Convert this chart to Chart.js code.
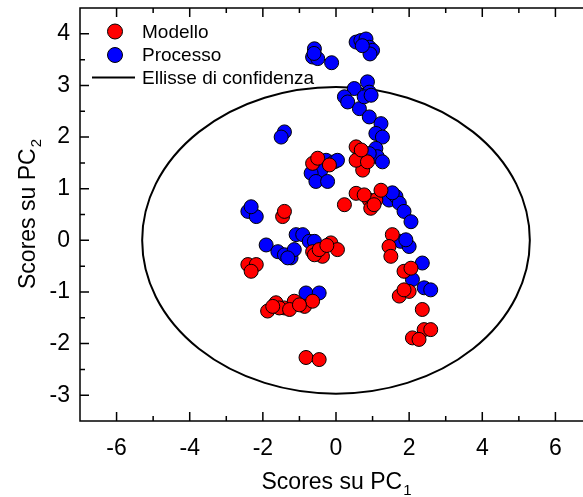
<!DOCTYPE html>
<html>
<head>
<meta charset="utf-8">
<script src="https://cdn.jsdelivr.net/npm/chart.js@4.4.1/dist/chart.umd.min.js"></script>
<style>
  html, body { margin: 0; padding: 0; background: #fff; overflow: hidden; }
  #grafico { display: block; }
</style>
</head>
<body>
<canvas id="grafico" width="600" height="497"></canvas>
<script>
// dati (scores PC1 / PC2)
const modelloX = [-0.64, -0.50, -0.18, 0.55, 0.64, 0.73, 0.55, 0.86, 0.69, 0.23, 0.55, 0.91, 1.09, 0.95, 1.23, 0.77, 1.04,
  1.54, 1.45, 1.50, 1.86, 2.05, 1.73, 2.00, 1.86, 2.36, 2.41, 2.59, 2.09, 2.27,
  -0.64, -0.37, -0.14, 0.04, -0.59, -0.46, -0.25, -2.41, -2.18, -2.32, -1.46, -1.41,
  -1.87, -1.64, -1.41, -1.55, -1.14, -0.86, -0.64, -1.73, -1.27, -1.00, -0.82, -0.46];
const modelloY = [1.49, 1.59, 1.46, 1.81, 1.62, 1.36, 1.55, 1.52, 1.75, 0.69, 0.91, 0.78, 0.78, 0.62, 0.97, 0.88, 0.69,
  0.11, -0.12, -0.31, -0.60, -0.54, -1.08, -0.99, -0.96, -1.34, -1.73, -1.73, -1.89, -1.92,
  -0.22, -0.31, -0.05, -0.18, -0.28, -0.18, -0.10, -0.47, -0.47, -0.60, 0.46, 0.56,
  -1.37, -1.21, -1.31, -1.31, -1.18, -1.28, -1.18, -1.28, -1.34, -1.25, -2.27, -2.31];

const processoX = [-0.59, -0.64, -0.50, -0.12, -0.60, 0.55, 0.68, 0.82, 0.91, 1.00, 0.93, 0.72,
  0.50, 0.86, 0.91, 0.23, 0.32, 0.64, 0.77, 0.96, 0.91, 1.23, 1.09, 1.27, 1.09, 1.13, -1.41, -1.50,
  -0.27, -0.05, 0.04, -0.41, -0.68, -0.55, -0.23, 1.27, 0.91,
  1.45, 1.64, 1.73, 1.86, 2.05, 1.54, 1.77, 2.00, 1.91, 2.36, 2.09, 2.41, 2.59,
  -1.91, -1.59, -1.41, -1.23, -1.14, -1.09, -0.91, -0.73, -1.32, -0.59, -2.41, -2.18, -2.32, -0.82, -0.46];
const processoY = [3.71, 3.55, 3.52, 3.44, 3.62, 3.84, 3.87, 3.90, 3.74, 3.68, 3.61, 3.77,
  2.94, 3.07, 2.87, 2.78, 2.68, 2.55, 2.78, 2.81, 2.39, 2.26, 2.07, 2.00, 1.78, 1.62, 2.10, 2.00,
  1.55, 1.52, 1.55, 1.36, 1.30, 1.14, 1.14, 1.52, 1.68,
  0.78, 0.85, 0.72, 0.56, 0.36, 0.92, -0.02, -0.12, 0.01, -0.44, -0.76, -0.92, -0.96,
  -0.09, -0.22, -0.28, -0.34, -0.18, 0.11, 0.11, -0.02, -0.34, -0.02, 0.56, 0.46, 0.65, -1.02, -1.02];

const xTicks = [-6, -4, -2, 0, 2, 4, 6];
const yTicks = [-3, -2, -1, 0, 1, 2, 3, 4];

// ellisse di confidenza: centro e semiassi
const ellisseCentro = [0, 0];
const ellisseSemiassi = [5.3, 2.97];

const etichette = ['Modello', 'Processo', 'Ellisse di confidenza'];
const fonte = '"Liberation Sans", Arial, sans-serif';

function punti(xs, ys) {
  return xs.map((v, i) => ({ x: v, y: ys[i] }));
}

// ellisse, cornice con tacche interne, legenda e titoli degli assi
const extra = {
  id: 'extra',
  beforeDatasetsDraw(chart) {
    const { ctx, scales: { x, y } } = chart;
    const cx = x.getPixelForValue(ellisseCentro[0]);
    const cy = y.getPixelForValue(ellisseCentro[1]);
    const rx = x.getPixelForValue(ellisseCentro[0] + ellisseSemiassi[0]) - cx;
    const ry = cy - y.getPixelForValue(ellisseCentro[1] + ellisseSemiassi[1]);
    ctx.save();
    ctx.beginPath();
    ctx.ellipse(cx, cy, rx, ry, 0, 0, Math.PI * 2);
    ctx.lineWidth = 2;
    ctx.strokeStyle = '#000';
    ctx.stroke();
    ctx.restore();
  },
  afterDraw(chart) {
    const { ctx, chartArea: a, scales: { x, y } } = chart;
    ctx.save();
    ctx.strokeStyle = '#000';
    ctx.lineWidth = 1.5;
    ctx.strokeRect(a.left, a.top, a.right - a.left, a.bottom - a.top);

    ctx.beginPath();
    for (let v = -6; v <= 6; v++) {
      const px = x.getPixelForValue(v);
      const l = v % 2 === 0 ? 9 : 5;
      ctx.moveTo(px, a.bottom); ctx.lineTo(px, a.bottom - l);
      ctx.moveTo(px, a.top); ctx.lineTo(px, a.top + l);
    }
    for (let v = -3; v <= 4; v += 0.5) {
      const py = y.getPixelForValue(v);
      const l = Number.isInteger(v) ? 9 : 5;
      ctx.moveTo(a.left, py); ctx.lineTo(a.left + l, py);
      ctx.moveTo(a.right, py); ctx.lineTo(a.right - l, py);
    }
    ctx.stroke();

    // legenda
    const ds = chart.data.datasets;
    ctx.font = '19px ' + fonte;
    ctx.textBaseline = 'middle';
    ctx.textAlign = 'left';
    ctx.fillStyle = '#000';
    [31.5, 55].forEach((ly, i) => {
      ctx.beginPath();
      ctx.arc(115, ly, 7.5, 0, Math.PI * 2);
      ctx.fillStyle = ds[i].backgroundColor;
      ctx.fill();
      ctx.lineWidth = 1;
      ctx.strokeStyle = '#000';
      ctx.stroke();
      ctx.fillStyle = '#000';
      ctx.fillText(etichette[i], 142, ly + 1);
    });
    ctx.beginPath();
    ctx.moveTo(92, 77.5); ctx.lineTo(135, 77.5);
    ctx.lineWidth = 2;
    ctx.stroke();
    ctx.fillText(etichette[2], 142, 78.5);

    // titoli assi con pedice
    const titolo = 'Scores su PC';
    ctx.textBaseline = 'alphabetic';
    ctx.font = '23px ' + fonte;
    const w = ctx.measureText(titolo).width;
    ctx.font = '15px ' + fonte;
    const ws = ctx.measureText('1').width;
    const xc = (a.left + a.right) / 2;
    const x0 = xc - (w + ws) / 2;
    ctx.font = '23px ' + fonte;
    ctx.fillText(titolo, x0, 489);
    ctx.font = '15px ' + fonte;
    ctx.fillText('1', x0 + w + 1, 495);

    ctx.translate(35, (a.top + a.bottom) / 2);
    ctx.rotate(-Math.PI / 2);
    ctx.font = '23px ' + fonte;
    ctx.fillText(titolo, -(w + ws) / 2, 0);
    ctx.font = '15px ' + fonte;
    ctx.fillText('2', -(w + ws) / 2 + w + 1, 6);
    ctx.restore();
  }
};

const grafico = new Chart(document.getElementById('grafico'), {
  type: 'scatter',
  data: {
    datasets: [
      {
        label: etichette[0],
        data: punti(modelloX, modelloY),
        backgroundColor: '#ff0000',
        borderColor: '#000',
        borderWidth: 1,
        pointRadius: 7,
        pointHoverRadius: 7
      },
      {
        label: etichette[1],
        data: punti(processoX, processoY),
        backgroundColor: '#0000ff',
        borderColor: '#000',
        borderWidth: 1,
        pointRadius: 7,
        pointHoverRadius: 7
      }
    ]
  },
  options: {
    responsive: false,
    animation: false,
    devicePixelRatio: 1,
    layout: { padding: { top: 6.5, right: 6.6, left: 0, bottom: 0 } },
    plugins: { legend: { display: false }, tooltip: { enabled: false } },
    scales: {
      x: {
        type: 'linear',
        min: -7,
        max: 7,
        afterBuildTicks: s => { s.ticks = xTicks.map(v => ({ value: v })); },
        afterFit: s => { s.height = 76; s.paddingLeft = 0; s.paddingRight = 0; },
        ticks: { font: { family: fonte, size: 23 }, color: '#000', padding: 14, maxRotation: 0 },
        grid: { display: false, drawTicks: false },
        border: { display: false }
      },
      y: {
        type: 'linear',
        min: -3.5,
        max: 4.5,
        afterBuildTicks: s => { s.ticks = yTicks.map(v => ({ value: v })); },
        afterFit: s => { s.width = 80; s.paddingTop = 0; s.paddingBottom = 0; },
        ticks: { font: { family: fonte, size: 23 }, color: '#000', padding: 10 },
        grid: { display: false, drawTicks: false },
        border: { display: false }
      }
    }
  },
  plugins: [extra]
});
</script>
</body>
</html>
